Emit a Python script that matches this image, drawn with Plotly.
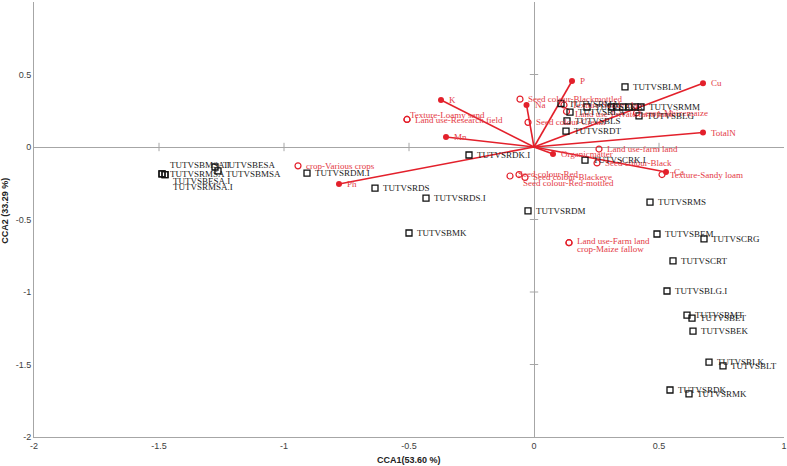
import plotly.graph_objects as go

# ---- sample scores (black squares) ----
sample_names = [
    "TUTVSBLM", "TUTVSRMA", "TUTVSBKB", "", "", "", "", "", "TUTVSRMM",
    "TUTVSRLA", "TUTVSBLG", "TUTVSBLS", "TUTVSRDT", "TUTVSRDK.I", "TUTVSCRK.I",
    "TUTVSRDM.I", "TUTVSRDS", "TUTVSRDS.I", "TUTVSBMK", "TUTVSRDM", "TUTVSRMS",
    "TUTVSBEM", "TUTVSCRG", "TUTVSCRT", "TUTVSBLG.I", "TUTVSRMT", "TUTVSBET",
    "TUTVSBEK", "TUTVSBLK", "TUTVSBLT", "TUTVSRDK", "TUTVSRMK",
    "TUTVSBMSA.I", "TUTVSRMSA", "TUTVSBESA.I", "TUTVSRMSA.I",
    "TUTVSBESA", "TUTVSBMSA",
]
sample_x = [
    0.364, 0.108, 0.212, 0.31, 0.33, 0.355, 0.38, 0.405, 0.428,
    0.144, 0.42, 0.132, 0.128, -0.26, 0.204,
    -0.908, -0.636, -0.432, -0.50, -0.024, 0.464,
    0.492, 0.68, 0.556, 0.532, 0.612, 0.632,
    0.636, 0.70, 0.756, 0.544, 0.62,
    -1.488, -1.488, -1.476, -1.476,
    -1.276, -1.264,
]
sample_y = [
    0.414, 0.30, 0.276, 0.276, 0.276, 0.276, 0.276, 0.276, 0.276,
    0.24, 0.214, 0.18, 0.11, -0.055, -0.09,
    -0.18, -0.283, -0.352, -0.593, -0.44, -0.38,
    -0.60, -0.634, -0.786, -0.993, -1.159, -1.18,
    -1.27, -1.483, -1.51, -1.676, -1.703,
    -0.186, -0.186, -0.19, -0.19,
    -0.138, -0.165,
]

# ---- environmental vectors (red arrows) ----
vec_names = ["P", "Cu", "Na", "K", "Mn", "Ph", "TotalN", "Organicmatter", "Ca"]
vec_x = [0.152, 0.676, -0.03, -0.372, -0.352, -0.78, 0.676, 0.076, 0.528]
vec_y = [0.455, 0.44, 0.29, 0.324, 0.069, -0.255, 0.10, -0.048, -0.172]

# ---- factor centroids (red open circles) ----
fac_names = [
    "Seed colour-Blackmottled", "Texture-Loamy sand", "Land use-Research field",
    "Seed colour-Cream", "Texture-Sandy clay", "Land use-Private farm land",
    "crop-Maizemaize", "Land use-farm land", "Seed colour-Black",
    "Texture-Sandy loam", "crop-Various crops", "Seed colour-Red",
    "Seed colour-Red-mottled", "Seed colour-Blackeye",
    "Land use-Farm land", "crop-Maize fallow",
]
fac_x = [-0.056, -0.508, -0.508, -0.024, 0.12, 0.13, 0.41, 0.26, 0.252,
         0.512, -0.944, -0.096, -0.06, -0.036, 0.14, 0.14]
fac_y = [0.33, 0.19, 0.19, 0.17, 0.29, 0.245, 0.235, -0.014, -0.11,
         -0.19, -0.13, -0.20, -0.19, -0.21, -0.66, -0.66]

# ---- axes ----
x_ticks = [-2, -1.5, -1, -0.5, 0, 0.5, 1]
y_ticks = [-2, -1.5, -1, -0.5, 0, 0.5, 1]
x_title = "CCA1(53.60 %)"
y_title = "CCA2 (33.29 %)"

# ---- label nudges in pixels (style only) ----
sample_dx = [7] * len(sample_names)
sample_dy = [0] * 32 + [9, 0, -6, -12, 2, -3]
fac_dx = [7, 2, 7, 7, 7, 7, 7, 7, 7, 7, 7, 7, 3, 7, 7, 7]
fac_dy = [0, 4, -1, 0, 0, -3, 0, 0, 0, 0, 0, 2, -8, 0, 2, -6]
vec_dx = [7] * len(vec_names)
vec_dy = [0] * len(vec_names)

RED = "#e3202b"
RED_TXT = "#e43a45"
GRAY = "#a6a6a6"
LABEL_FONT = dict(family="Liberation Serif, Times New Roman, serif", size=9)
TITLE_FONT = dict(family="Liberation Sans, Arial, sans-serif", size=9, color="#222")

fig = go.Figure()

# small tick marks on the zero lines
tx = [t for t in x_ticks if t not in (-2, 0, 1)]
ty = [t for t in y_ticks if t not in (-2, 0, 1)]
fig.add_trace(go.Scatter(x=tx, y=[0] * len(tx), mode="markers", hoverinfo="skip",
                         marker=dict(symbol="line-ns", size=6, color=GRAY,
                                     line=dict(width=1, color=GRAY))))
fig.add_trace(go.Scatter(x=[0] * len(ty), y=ty, mode="markers", hoverinfo="skip",
                         marker=dict(symbol="line-ew", size=6, color=GRAY,
                                     line=dict(width=1, color=GRAY))))

# vector lines
lx, ly = [], []
for vx, vy in zip(vec_x, vec_y):
    lx += [0, vx, None]
    ly += [0, vy, None]
fig.add_trace(go.Scatter(x=lx, y=ly, mode="lines", line=dict(color=RED, width=1.6),
                         hoverinfo="skip"))
fig.add_trace(go.Scatter(x=vec_x, y=vec_y, mode="markers", text=vec_names,
                         marker=dict(symbol="circle", size=6, color=RED)))

# factor centroids
fig.add_trace(go.Scatter(x=fac_x, y=fac_y, mode="markers", text=fac_names,
                         marker=dict(symbol="circle-open", size=6, color=RED,
                                     line=dict(color=RED, width=1.2))))

# samples
fig.add_trace(go.Scatter(x=sample_x, y=sample_y, mode="markers", text=sample_names,
                         marker=dict(symbol="square-open", size=6, color="#111111",
                                     line=dict(color="#111111", width=1.3))))


def add_labels(xs, ys, names, dxs, dys, color):
    for x, y, t, dx, dy in zip(xs, ys, names, dxs, dys):
        if not t:
            continue
        fig.add_annotation(x=x, y=y, xref="x", yref="y", text=t, showarrow=False,
                           xanchor="left", yanchor="middle", xshift=dx, yshift=dy,
                           borderpad=0, font=dict(color=color, **LABEL_FONT))


add_labels(vec_x, vec_y, vec_names, vec_dx, vec_dy, RED_TXT)
add_labels(fac_x, fac_y, fac_names, fac_dx, fac_dy, RED_TXT)
add_labels(sample_x, sample_y, sample_names, sample_dx, sample_dy, "#1a1a1a")

axis_common = dict(
    showgrid=False, zeroline=True, zerolinecolor=GRAY, zerolinewidth=1,
    showline=True, linecolor=GRAY, linewidth=1, ticks="", automargin=False,
    tickfont=dict(family="Liberation Sans, Arial, sans-serif", size=9, color="#404040"),
)
fig.update_xaxes(range=[-2, 1], tickvals=x_ticks, ticktext=[f"{t:g}" for t in x_ticks],
                 **axis_common)
fig.update_yaxes(range=[-2, 1], tickvals=y_ticks, ticktext=[f"{t:g}" for t in y_ticks],
                 **axis_common)

fig.add_annotation(text=f"<b>{x_title}</b>", xref="paper", yref="paper", x=0.5, y=0,
                   xanchor="center", yanchor="top", yshift=-16, showarrow=False,
                   font=TITLE_FONT)
fig.add_annotation(text=f"<b>{y_title}</b>", xref="paper", yref="paper", x=0, y=0.52,
                   xanchor="right", yanchor="middle", xshift=-22, textangle=-90,
                   showarrow=False, font=TITLE_FONT)

fig.update_layout(
    width=787, height=466,
    margin=dict(l=34, r=3, t=2, b=29),
    paper_bgcolor="white", plot_bgcolor="white",
    showlegend=False,
)

post = ("document.body.style.margin='0';document.body.style.overflow='hidden';"
        "var gd=document.getElementById('{plot_id}');"
        "Plotly.relayout(gd,{width:787,height:466});")

fig.write_html("out.html", post_script=post, config={"displayModeBar": False})
